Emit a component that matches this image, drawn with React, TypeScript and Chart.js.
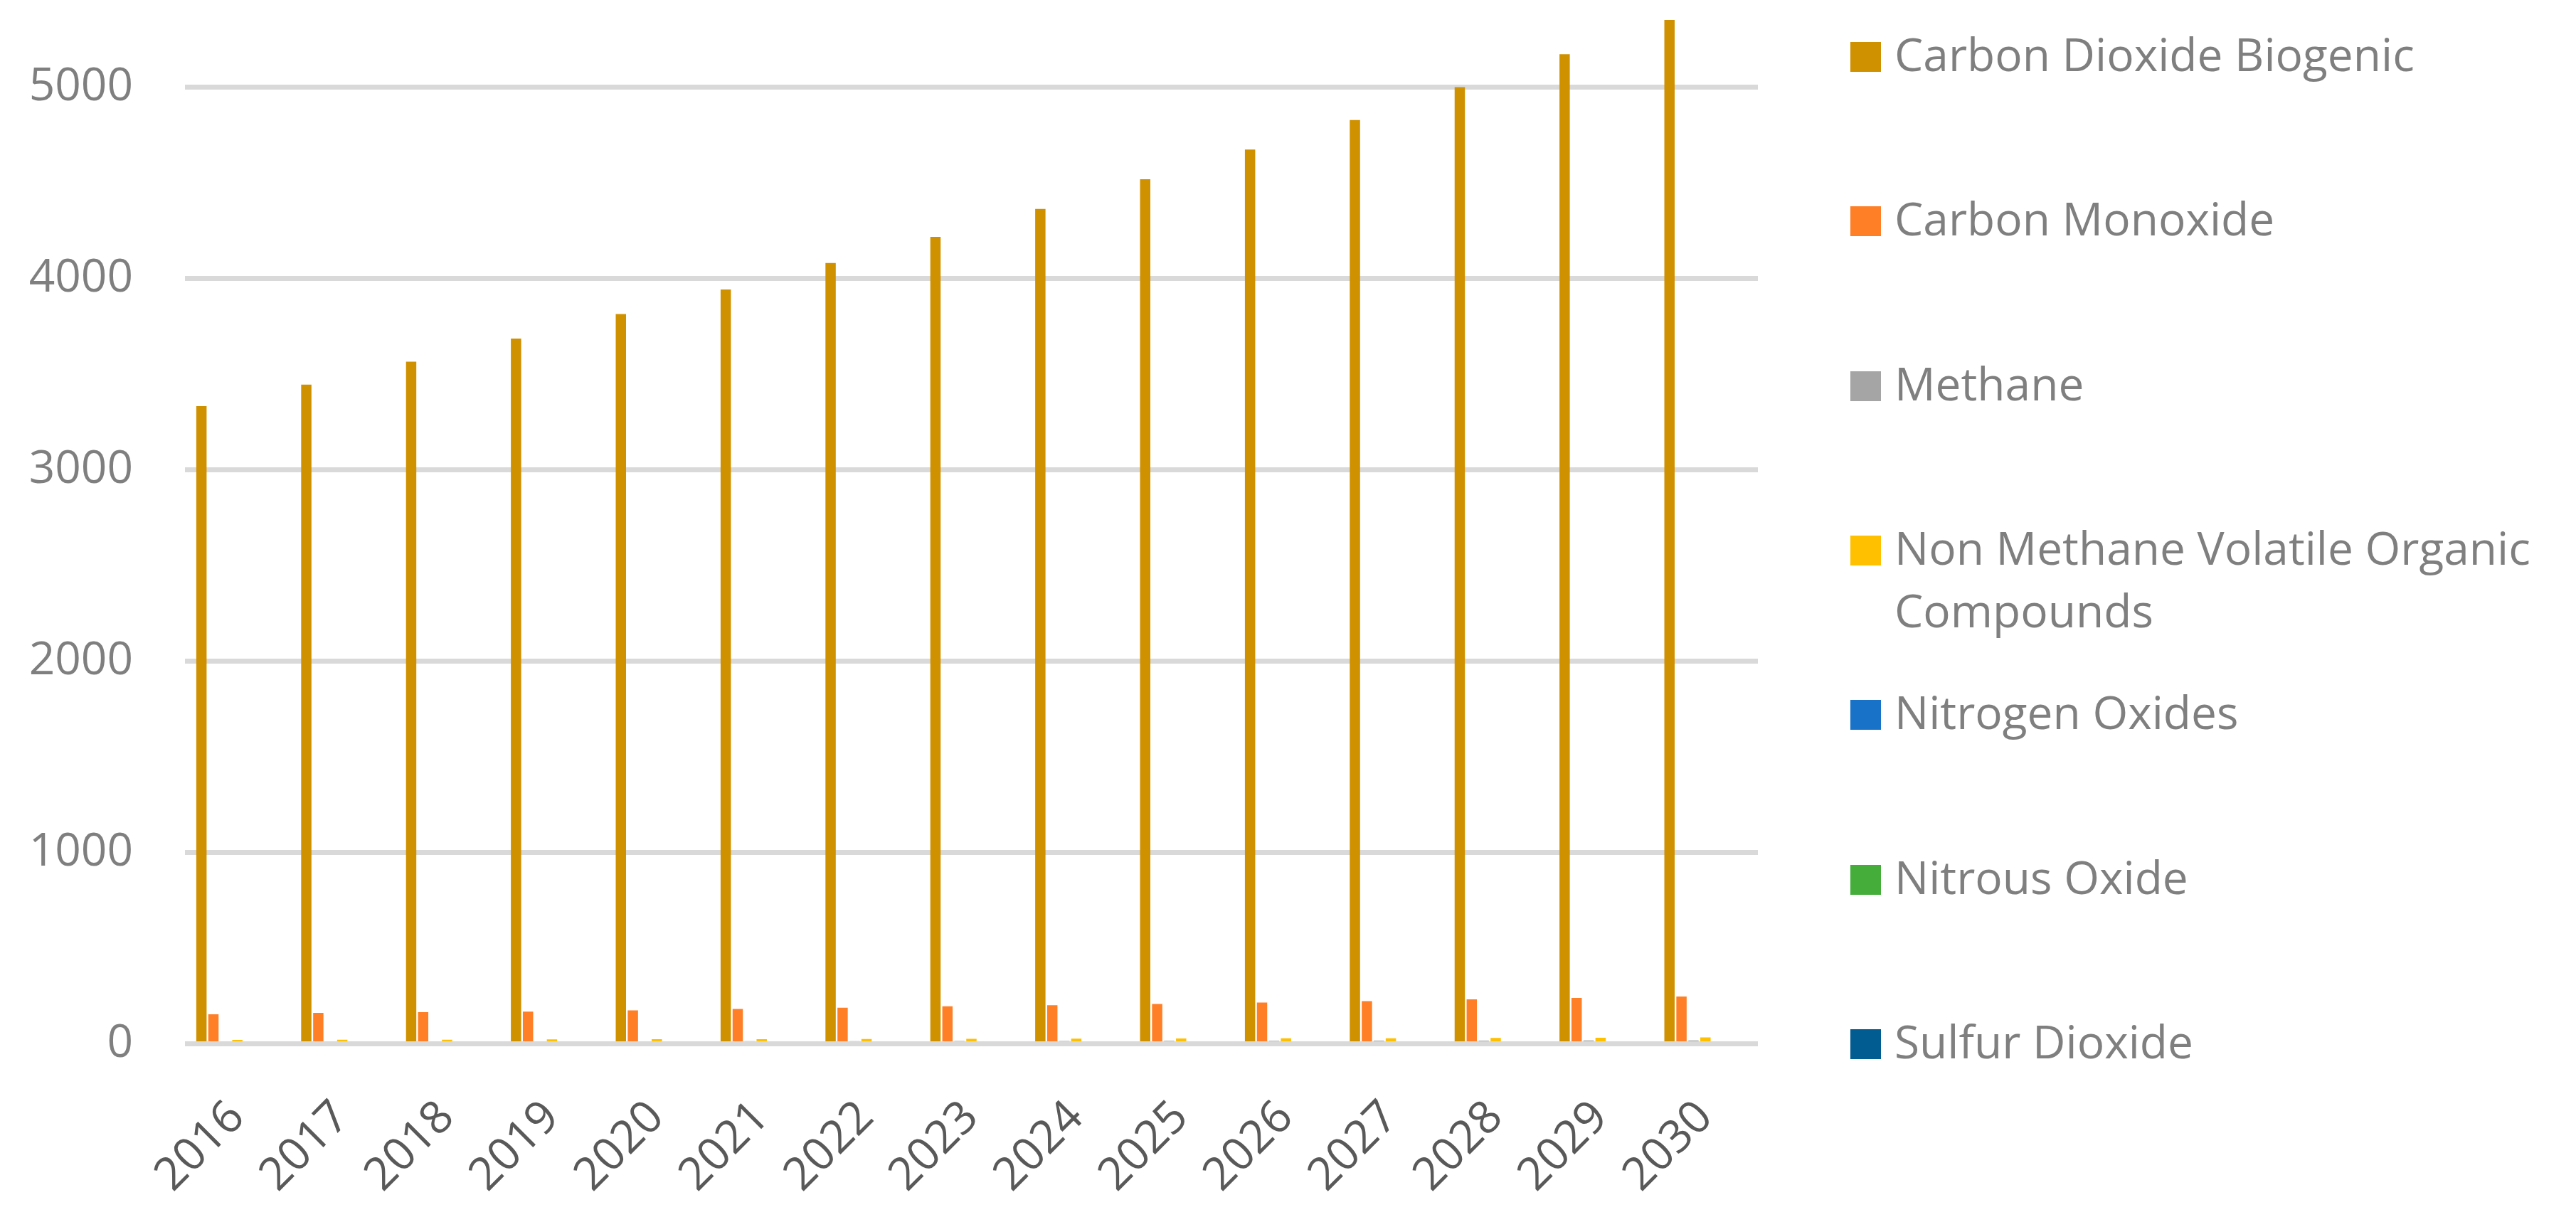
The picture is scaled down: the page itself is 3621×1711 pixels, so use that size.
import React, { useEffect, useRef } from "react";
import { Chart, registerables } from "chart.js";

Chart.register(...registerables);

// ---- data ----
const years = ["2016", "2017", "2018", "2019", "2020", "2021", "2022", "2023", "2024", "2025", "2026", "2027", "2028", "2029", "2030"];

const seriesNames = [
  "Carbon Dioxide Biogenic",
  "Carbon Monoxide",
  "Methane",
  "Non Methane Volatile Organic Compounds",
  "Nitrogen Oxides",
  "Nitrous Oxide",
  "Sulfur Dioxide",
];

const seriesColors = ["#D09100", "#FF7F27", "#A5A5A5", "#FFC000", "#1872C8", "#45AE3B", "#015C91"];

const carbonDioxideBiogenic = [3333, 3445, 3565, 3686, 3814, 3943, 4081, 4218, 4364, 4519, 4674, 4828, 5000, 5172, 5352];
const carbonMonoxide = [154, 162, 165, 168, 175, 182, 189, 196, 202, 208, 216, 223, 232, 240, 247];
const methane = [11, 12, 12, 13, 13, 14, 14, 15, 15, 16, 16, 17, 17, 18, 18];
const nonMethaneVOC = [20, 21, 21, 23, 24, 24, 25, 26, 27, 28, 29, 29, 31, 32, 33];
const nitrogenOxides = [6, 6, 6, 7, 7, 7, 7, 8, 8, 8, 8, 9, 9, 9, 9];
const nitrousOxide = [0.3, 0.3, 0.3, 0.3, 0.3, 0.3, 0.4, 0.4, 0.4, 0.4, 0.4, 0.4, 0.4, 0.5, 0.5];
const sulfurDioxide = [1, 1, 1, 1, 1, 1, 1, 1, 1, 1, 1, 1, 1, 1, 1];

const seriesValues = [carbonDioxideBiogenic, carbonMonoxide, methane, nonMethaneVOC, nitrogenOxides, nitrousOxide, sulfurDioxide];

const yTicks = [0, 1000, 2000, 3000, 4000, 5000];
const yMax = 5400;

const FONT = "'Open Sans', 'Noto Sans', sans-serif";
const GRID = "#D9D9D9";

export default function App() {
  const ref = useRef<HTMLCanvasElement>(null);

  useEffect(() => {
    if (!ref.current) return;
    const zeroLine = {
      id: "zeroLine",
      afterDatasetsDraw(chart: any) {
        const y = chart.scales.y.getPixelForValue(0);
        const { left, right } = chart.chartArea;
        const ctx = chart.ctx;
        ctx.save();
        ctx.strokeStyle = GRID;
        ctx.lineWidth = 7;
        ctx.beginPath();
        ctx.moveTo(left, y);
        ctx.lineTo(right, y);
        ctx.stroke();
        ctx.restore();
      },
    };

    const chart = new Chart(ref.current, {
      type: "bar",
      data: {
        labels: years,
        datasets: seriesNames.map((name, i) => ({
          label: name,
          data: seriesValues[i],
          backgroundColor: seriesColors[i],
          borderWidth: 0,
          categoryPercentage: 0.8,
          barPercentage: 0.86,
        })),
      },
      options: {
        animation: false,
        responsive: true,
        maintainAspectRatio: false,
        layout: { padding: { top: 15, left: 0, right: 0, bottom: 0 } },
        plugins: {
          legend: { display: false },
          tooltip: { enabled: false },
        },
        scales: {
          x: {
            grid: { display: false },
            border: { display: false },
            ticks: {
              autoSkip: false,
              minRotation: 45,
              maxRotation: 45,
              padding: 58,
              color: "#595959",
              font: { family: FONT, size: 64 },
            },
            afterFit: (scale: any) => {
              scale.height = 243.5;
              scale.paddingLeft = 0;
              scale.paddingRight = 0;
            },
          },
          y: {
            min: 0,
            max: yMax,
            grid: { color: GRID, lineWidth: 7, drawTicks: false },
            border: { display: false },
            ticks: {
              padding: 73,
              color: "#7F7F7F",
              font: { family: FONT, size: 64 },
              callback: (v: any) => String(v),
            },
            afterBuildTicks: (scale: any) => {
              scale.ticks = yTicks.map((v) => ({ value: v }));
            },
            afterFit: (scale: any) => {
              scale.width = 260;
              scale.paddingTop = 0;
              scale.paddingBottom = 0;
            },
          },
        },
      },
      plugins: [zeroLine],
    });
    return () => chart.destroy();
  }, []);

  return (
    <div style={{ position: "absolute", left: 0, top: 0, width: 3621, height: 1711, background: "#fff", overflow: "hidden" }}>
      <div style={{ position: "absolute", left: 0, top: 0, width: 2471, height: 1711 }}>
        <canvas ref={ref} />
      </div>
      {seriesNames.map((name, i) => (
        <div
          key={name}
          style={{
            position: "absolute",
            left: 2601,
            top: 80 + i * 231.3 - 44,
            width: 3621 - 2601,
            display: "flex",
            alignItems: "flex-start",
          }}
        >
          <div style={{ width: 43, height: 42, marginTop: 23, background: seriesColors[i], flex: "none" }} />
          <div
            style={{
              marginLeft: 19,
              marginTop: -4,
              width: 3621 - 2663 - 8,
              fontFamily: FONT,
              fontSize: 64,
              lineHeight: "88px",
              color: "#7F7F7F",
            }}
          >
            {name}
          </div>
        </div>
      ))}
    </div>
  );
}
